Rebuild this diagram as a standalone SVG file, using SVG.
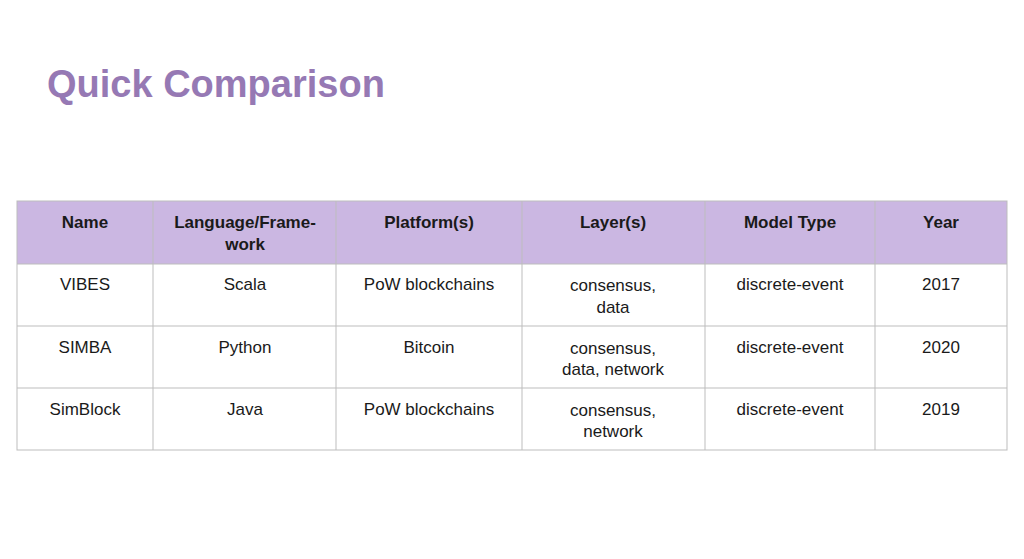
<svg xmlns="http://www.w3.org/2000/svg" width="1024" height="559" viewBox="0 0 1024 559">
<style>
text{font-family:"Liberation Sans",Arial,sans-serif;font-size:17px;fill:#1a1a1a;text-anchor:middle}
.h{font-weight:bold}
.t{font-size:38px;font-weight:bold;fill:#9679b4;text-anchor:start}
line{stroke:#bdbdbd;stroke-width:1}
</style>
<rect width="1024" height="559" fill="#fff"/>
<text class="t" x="47" y="97">Quick Comparison</text>
<g id="table">
<rect x="17" y="201" width="990" height="63" fill="#cbb7e2"/>
<rect x="17" y="201" width="990" height="249" fill="none" stroke="#bdbdbd"/>
<line x1="17" y1="264" x2="1007" y2="264"/><line x1="17" y1="326" x2="1007" y2="326"/><line x1="17" y1="388" x2="1007" y2="388"/>
<line x1="153" y1="201" x2="153" y2="450"/><line x1="336" y1="201" x2="336" y2="450"/><line x1="522" y1="201" x2="522" y2="450"/><line x1="705" y1="201" x2="705" y2="450"/><line x1="875" y1="201" x2="875" y2="450"/>
<text class="h" x="85" y="228">Name</text>
<text class="h" x="245" y="228">Language/Frame-</text><text class="h" x="245" y="250">work</text>
<text class="h" x="429" y="228">Platform(s)</text>
<text class="h" x="613" y="228">Layer(s)</text>
<text class="h" x="790" y="228">Model Type</text>
<text class="h" x="941" y="228">Year</text>
<text x="85" y="290">VIBES</text><text x="245" y="290">Scala</text><text x="429" y="290">PoW blockchains</text><text x="613" y="291">consensus,</text><text x="613" y="313">data</text><text x="790" y="290">discrete-event</text><text x="941" y="290">2017</text>
<text x="85" y="353">SIMBA</text><text x="245" y="353">Python</text><text x="429" y="353">Bitcoin</text><text x="613" y="354">consensus,</text><text x="613" y="375">data, network</text><text x="790" y="353">discrete-event</text><text x="941" y="353">2020</text>
<text x="85" y="415">SimBlock</text><text x="245" y="415">Java</text><text x="429" y="415">PoW blockchains</text><text x="613" y="416">consensus,</text><text x="613" y="437">network</text><text x="790" y="415">discrete-event</text><text x="941" y="415">2019</text>
</g>
</svg>
